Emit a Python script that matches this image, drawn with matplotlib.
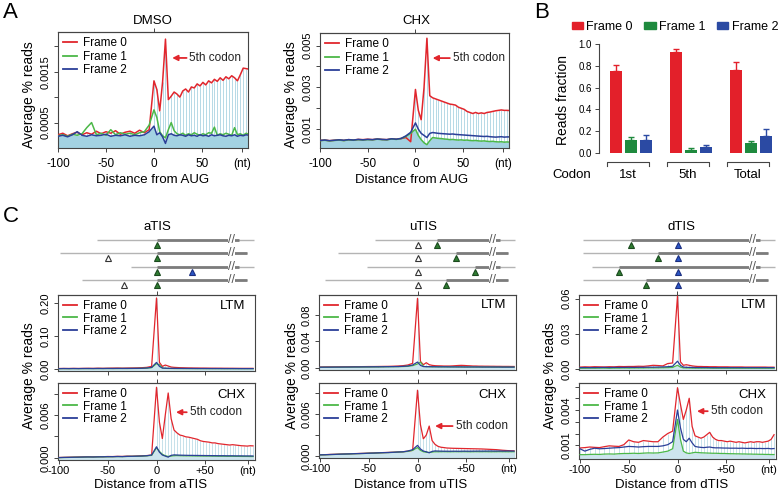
import numpy as np
import matplotlib
matplotlib.use("Agg")
import matplotlib.pyplot as plt
from matplotlib.lines import Line2D
from matplotlib.patches import Patch

plt.rcParams["font.family"] = ["Liberation Sans", "DejaVu Sans"]

# ---------------- data ----------------
# positions (nt): every 5 nt upstream, every codon downstream
POS = np.r_[np.arange(-100, 0, 5), np.arange(0, 100, 3)]

# panel A, DMSO (x 1e-4)
DMSO_F0 = [2.6, 2.9, 2.4, 2.8, 3.1, 2.6, 3.0, 2.7, 3.3, 2.8, 3.2, 2.9, 3.4, 2.7, 3.1, 3.3, 2.9, 3.5, 3.0, 3.6,
           13.2, 11.5, 7.3, 13.0, 21.4, 9.5, 10.2, 11.0, 10.6, 10.0, 11.2, 11.6, 11.0, 12.0, 11.8, 12.6, 12.2,
           12.9, 12.4, 13.2, 12.8, 13.5, 13.1, 13.8, 13.3, 14.0, 13.6, 14.2, 13.8, 13.2, 14.4, 15.7, 15.6, 15.5]
DMSO_F1 = [2.4, 2.6, 2.3, 2.7, 2.5, 2.8, 4.0, 5.0, 2.6, 2.9, 2.5, 3.6, 2.6, 3.0, 2.7, 2.9, 2.6, 3.0, 3.2, 4.5,
           7.5, 6.0, 3.2, 2.4, 2.0, 3.6, 5.0, 3.4, 2.8, 2.6, 2.9, 2.5, 2.8, 2.6, 3.0, 2.7, 2.5, 2.8, 2.6, 3.0,
           2.9, 4.1, 2.5, 2.8, 2.6, 2.9, 2.7, 2.5, 4.0, 2.6, 2.8, 2.5, 2.9, 2.7]
DMSO_F2 = [2.3, 2.5, 2.2, 2.6, 3.2, 2.5, 2.3, 2.6, 2.4, 2.5, 2.7, 2.3, 2.5, 2.4, 2.6, 2.3, 2.5, 2.4, 2.6, 3.2,
           4.3, 2.6, 3.0, 2.2, 0.9, 2.6, 2.8, 2.5, 2.4, 2.6, 2.5, 2.3, 2.6, 2.4, 2.5, 2.3, 2.6, 2.4, 2.5, 2.3,
           2.6, 2.4, 2.5, 2.6, 2.4, 2.3, 2.5, 2.4, 2.6, 2.3, 2.5, 2.4, 2.6, 2.5]

# panel A, CHX (x 1e-4)
CHXA_F0 = [4.6, 4.8, 4.5, 4.7, 4.9, 4.6, 5.0, 4.8, 5.1, 5.0, 5.2, 5.0, 5.3, 5.1, 5.0, 5.4, 5.2, 5.5, 6.0, 4.0,
           29.0, 19.0, 14.5, 30.0, 53.5, 26.0, 25.0, 24.5, 24.0, 23.5, 23.0, 22.5, 22.0, 21.8, 21.5, 20.5, 20.0,
           19.5, 18.5, 18.0, 17.5, 18.0, 17.5, 17.8, 17.5, 18.0, 18.2, 18.5, 18.8, 19.0, 19.2, 19.0, 19.0, 18.9]
CHXA_F1 = [4.5, 4.7, 4.4, 4.6, 4.8, 4.5, 4.9, 4.7, 5.0, 4.8, 5.0, 4.9, 5.2, 5.0, 4.9, 5.3, 5.1, 5.5, 6.5, 8.0,
           10.0, 7.0, 5.0, 3.5, 2.6, 4.5, 6.0, 5.8, 5.6, 5.5, 5.3, 5.2, 5.0, 5.1, 4.9, 4.8, 4.9, 4.7, 4.8, 4.6,
           4.5, 4.6, 4.4, 4.3, 4.4, 4.2, 4.1, 4.2, 4.0, 3.9, 4.0, 3.8, 3.9, 3.8]
CHXA_F2 = [4.6, 4.8, 4.5, 4.7, 4.9, 4.7, 5.0, 4.8, 5.1, 4.9, 5.1, 5.0, 5.3, 5.1, 5.0, 5.4, 5.2, 5.6, 6.8, 8.5,
           13.0, 10.0, 8.0, 7.0, 6.0, 8.0, 8.4, 8.2, 8.0, 7.9, 7.8, 7.7, 7.6, 7.7, 7.5, 7.4, 7.3, 7.2, 7.1, 7.0,
           6.9, 6.8, 6.7, 6.6, 6.5, 6.6, 6.4, 6.3, 6.2, 6.3, 6.4, 6.2, 6.3, 6.3]

# panel B
CODONS = ["1st", "5th", "Total"]
FRAME0_FRAC = [0.755, 0.927, 0.758]
FRAME0_ERR = [0.055, 0.027, 0.080]
FRAME1_FRAC = [0.116, 0.030, 0.092]
FRAME1_ERR = [0.035, 0.013, 0.015]
FRAME2_FRAC = [0.122, 0.052, 0.153]
FRAME2_ERR = [0.040, 0.024, 0.067]

# panel C, aTIS (LTM x 1e-2, CHX x 1e-4)
ATIS_LTM_F0 = [0.15, 0.18, 0.16, 0.20, 0.17, 0.20, 0.22, 0.20, 0.25, 0.22, 0.25, 0.28, 0.30, 0.27, 0.30, 0.32,
               0.35, 0.40, 0.50, 0.80,
               21.5, 2.0, 0.8, 1.2, 0.9, 0.6, 0.5, 0.45, 0.4, 0.38, 0.35, 0.33, 0.32, 0.3, 0.3, 0.28, 0.28,
               0.27, 0.26, 0.25, 0.25, 0.24, 0.24, 0.23, 0.23, 0.22, 0.22, 0.21, 0.21, 0.2, 0.2, 0.2, 0.2, 0.2]
ATIS_LTM_F1 = [0.10, 0.12, 0.10, 0.12, 0.11, 0.12, 0.13, 0.12, 0.14, 0.13, 0.15, 0.14, 0.15, 0.16, 0.15, 0.17,
               0.18, 0.20, 0.25, 0.40,
               1.6, 1.3, 0.3, 0.2, 0.18, 0.16, 0.15, 0.15, 0.14, 0.14, 0.13, 0.13, 0.13, 0.12, 0.12, 0.12, 0.12,
               0.11, 0.11, 0.11, 0.11, 0.11, 0.1, 0.1, 0.1, 0.1, 0.1, 0.1, 0.1, 0.1, 0.1, 0.1, 0.1, 0.1]
ATIS_LTM_F2 = [0.12, 0.14, 0.13, 0.14, 0.13, 0.15, 0.15, 0.14, 0.16, 0.15, 0.17, 0.16, 0.18, 0.17, 0.18, 0.19,
               0.20, 0.23, 0.30, 0.50,
               2.0, 0.8, 0.3, 0.25, 0.22, 0.2, 0.19, 0.18, 0.18, 0.17, 0.17, 0.16, 0.16, 0.16, 0.15, 0.15, 0.15,
               0.15, 0.14, 0.14, 0.14, 0.14, 0.14, 0.13, 0.13, 0.13, 0.13, 0.13, 0.12, 0.12, 0.12, 0.12, 0.12, 0.12]
ATIS_CHX_F0 = [0.5, 0.7, 0.9, 1.0, 1.2, 1.3, 1.5, 1.4, 1.7, 1.6, 1.9, 1.8, 2.1, 2.0, 2.4, 2.3, 2.6, 2.9, 3.2, 3.8,
               99, 50, 27, 60, 91, 55, 39, 35, 32, 31, 29.5, 29, 28, 27, 26, 24, 23, 22.5, 22, 21,
               21, 20, 19.5, 19, 18.5, 18, 18.5, 18, 17.5, 17, 16.8, 16.5, 17.0, 16.8]
ATIS_CHX_F1 = [0.3, 0.5, 0.6, 0.8, 0.9, 1.0, 1.2, 1.1, 1.3, 1.4, 1.5, 1.6, 1.8, 1.7, 2.0, 2.1, 2.2, 2.4, 2.8, 3.5,
               14, 9, 5, 3, 2, 2.5, 3, 3.2, 3.0, 2.9, 2.8, 2.8, 2.7, 2.7, 2.6, 2.6, 2.5, 2.5, 2.5, 2.4,
               2.4, 2.3, 2.3, 2.3, 2.2, 2.2, 2.2, 2.1, 2.1, 2.0, 2.0, 2.0, 1.9, 1.9]
ATIS_CHX_F2 = [0.4, 0.6, 0.7, 0.9, 1.0, 1.2, 1.3, 1.2, 1.4, 1.5, 1.7, 1.7, 1.9, 1.8, 2.1, 2.2, 2.4, 2.6, 3.0, 4.0,
               15.6, 8, 4, 2.5, 1.0, 3.5, 4.2, 4.0, 3.8, 3.7, 3.6, 3.5, 3.5, 3.4, 3.4, 3.3, 3.3, 3.2, 3.2, 3.1,
               3.1, 3.0, 3.0, 3.0, 2.9, 2.9, 2.9, 2.8, 2.8, 2.8, 2.7, 2.7, 2.7, 2.6]

# panel C, uTIS
UTIS_LTM_F0 = [0.15, 0.16, 0.17, 0.17, 0.18, 0.18, 0.19, 0.20, 0.20, 0.21, 0.22, 0.22, 0.23, 0.24, 0.25, 0.27,
               0.30, 0.35, 0.45, 0.70,
               10.5, 1.0, 0.5, 0.8, 0.5, 0.4, 0.35, 0.33, 0.32, 0.3, 0.3, 0.3, 0.32, 0.35, 0.38, 0.4, 0.38,
               0.35, 0.33, 0.3, 0.3, 0.28, 0.28, 0.27, 0.27, 0.26, 0.26, 0.25, 0.25, 0.24, 0.24, 0.24, 0.23, 0.23]
UTIS_LTM_F1 = [0.10, 0.11, 0.11, 0.12, 0.12, 0.13, 0.13, 0.14, 0.14, 0.15, 0.15, 0.16, 0.16, 0.17, 0.18, 0.19,
               0.20, 0.22, 0.25, 0.35,
               0.6, 0.9, 0.25, 0.2, 0.19, 0.18, 0.18, 0.17, 0.17, 0.17, 0.16, 0.16, 0.16, 0.16, 0.15, 0.15, 0.15,
               0.15, 0.15, 0.15, 0.14, 0.14, 0.14, 0.14, 0.14, 0.14, 0.13, 0.13, 0.13, 0.13, 0.13, 0.13, 0.13, 0.13]
UTIS_LTM_F2 = [0.12, 0.13, 0.13, 0.14, 0.14, 0.15, 0.15, 0.16, 0.16, 0.17, 0.17, 0.18, 0.18, 0.19, 0.20, 0.21,
               0.22, 0.25, 0.30, 0.45,
               0.9, 0.4, 0.22, 0.2, 0.2, 0.19, 0.19, 0.18, 0.18, 0.18, 0.18, 0.17, 0.17, 0.17, 0.17, 0.17, 0.16,
               0.16, 0.16, 0.16, 0.16, 0.16, 0.15, 0.15, 0.15, 0.15, 0.15, 0.15, 0.15, 0.14, 0.14, 0.14, 0.14, 0.14]
UTIS_CHX_F0 = [1.6, 1.8, 2.1, 2.3, 2.6, 2.8, 3.0, 3.3, 3.5, 3.7, 4.0, 4.2, 4.5, 4.8, 5.0, 5.3, 5.7, 6.0, 6.8, 8.0,
               94.6, 45, 24.6, 30, 43, 22, 16.6, 13.8, 12.5, 12, 11.4, 11.2, 11.0, 10.9, 10.8, 10.7, 10.6, 10.5,
               10.4, 10.3, 10.2, 10.1, 10.0, 9.8, 9.6, 9.4, 9.2, 9.0, 8.6, 8.2, 7.9, 7.6, 7.4, 7.2]
UTIS_CHX_F1 = [1.4, 1.6, 1.9, 2.1, 2.4, 2.6, 2.8, 3.1, 3.3, 3.5, 3.8, 4.0, 4.3, 4.6, 4.8, 5.1, 5.5, 5.8, 6.5, 8.0,
               12, 8, 6, 5.2, 5.0, 5.5, 6.0, 5.9, 6.0, 6.1, 6.0, 5.9, 6.0, 6.1, 6.0, 6.0, 6.1, 6.0, 5.9, 6.0,
               6.1, 6.0, 6.0, 6.1, 6.0, 5.9, 6.0, 6.0, 6.1, 6.0, 6.0, 5.9, 6.0, 6.0]
UTIS_CHX_F2 = [1.5, 1.7, 2.0, 2.2, 2.5, 2.7, 2.9, 3.2, 3.4, 3.6, 3.9, 4.1, 4.4, 4.7, 4.9, 5.2, 5.6, 5.9, 7.0, 9.0,
               15.2, 10, 7, 6, 4.5, 6.5, 7.2, 7.0, 6.9, 6.8, 6.8, 6.7, 6.8, 6.8, 6.7, 6.8, 6.9, 6.8, 6.8, 6.9,
               6.9, 7.0, 6.9, 7.0, 7.0, 7.1, 7.0, 7.0, 7.1, 7.0, 7.0, 7.1, 7.0, 7.0]

# panel C, dTIS
DTIS_LTM_F0 = [0.15, 0.17, 0.16, 0.18, 0.17, 0.16, 0.18, 0.17, 0.20, 0.19, 0.20, 0.20, 0.22, 0.21, 0.25, 0.30,
               0.28, 0.25, 0.45, 0.50,
               6.2, 0.6, 0.3, 0.35, 0.3, 0.25, 0.22, 0.2, 0.2, 0.19, 0.19, 0.18, 0.18, 0.18, 0.17, 0.17, 0.17,
               0.17, 0.16, 0.16, 0.16, 0.16, 0.16, 0.15, 0.15, 0.15, 0.15, 0.15, 0.15, 0.15, 0.15, 0.14, 0.14, 0.14]
DTIS_LTM_F1 = [0.05, 0.05, 0.06, 0.05, 0.06, 0.06, 0.05, 0.06, 0.06, 0.07, 0.06, 0.07, 0.07, 0.07, 0.08, 0.08,
               0.08, 0.09, 0.10, 0.12,
               0.30, 0.15, 0.08, 0.07, 0.07, 0.06, 0.06, 0.06, 0.06, 0.06, 0.06, 0.06, 0.05, 0.05, 0.05, 0.05, 0.05,
               0.05, 0.05, 0.05, 0.05, 0.05, 0.05, 0.05, 0.05, 0.05, 0.05, 0.05, 0.05, 0.05, 0.05, 0.05, 0.05, 0.05]
DTIS_LTM_F2 = [0.10, 0.11, 0.10, 0.11, 0.11, 0.12, 0.11, 0.12, 0.12, 0.12, 0.13, 0.12, 0.13, 0.13, 0.14, 0.14,
               0.15, 0.16, 0.18, 0.22,
               0.65, 0.3, 0.15, 0.13, 0.12, 0.12, 0.11, 0.11, 0.11, 0.11, 0.11, 0.1, 0.1, 0.1, 0.1, 0.1, 0.1,
               0.1, 0.1, 0.1, 0.1, 0.1, 0.1, 0.1, 0.1, 0.1, 0.1, 0.1, 0.1, 0.1, 0.1, 0.1, 0.1, 0.1]
DTIS_CHX_F0 = [7.7, 8.0, 8.5, 8.2, 8.0, 8.8, 9.5, 9.2, 9.0, 10.5, 14.5, 13.0, 12.5, 14.0, 13.5, 13.0, 13.0, 17.0,
               20.0, 22.0,
               59, 45, 32, 40, 50, 26, 18, 17, 16, 17, 19, 21, 17, 15, 14, 14, 13.5, 13, 13.5, 13,
               12.5, 13, 12.5, 12, 12.5, 13, 12.5, 13, 13, 12.5, 13, 13.5, 15, 19]
DTIS_CHX_F1 = [2.0, 2.0, 2.2, 2.3, 2.2, 2.5, 2.6, 2.5, 2.8, 3.0, 3.0, 3.2, 3.0, 3.3, 3.5, 3.4, 3.5, 4.2, 5.0, 7.0,
               32, 15, 5, 3.5, 3.0, 3.5, 4.0, 3.8, 3.6, 3.5, 3.4, 3.3, 3.2, 3.2, 3.1, 3.0, 3.0, 2.9, 2.8, 2.8,
               2.7, 2.7, 2.6, 2.6, 2.5, 2.5, 2.4, 2.4, 2.3, 2.3, 2.2, 2.2, 2.1, 2.1]
DTIS_CHX_F2 = [7.0, 5.0, 6.5, 7.5, 7.0, 7.2, 7.5, 7.8, 8.0, 8.5, 9.0, 8.8, 8.5, 8.8, 9.0, 9.0, 9.0, 9.5, 10.5, 13.0,
               40, 25, 15, 13, 16, 12, 9, 8.5, 8.2, 8.0, 8.3, 8.5, 8.0, 7.8, 7.8, 7.7, 7.6, 7.6, 7.5, 7.5,
               7.5, 7.4, 7.5, 7.4, 7.3, 7.4, 7.3, 7.2, 7.3, 7.2, 7.2, 7.3, 7.0, 7.2]

# transcript schematics (nt): leader start, CDS start, line ends, start-codon marks
ATIS_START = [-61, -99, -26, -76]
ATIS_CDS = [0, 0, 0, 0]
ATIS_OPEN = [[], [-50], [], [-33]]
ATIS_GREEN = [[0], [0], [0], [0]]
ATIS_BLUE = [[], [], [36], []]
UTIS_START = [-44, -82, -52, -95]
UTIS_CDS = [19.5, 39, 58.5, 29]
UTIS_OPEN = [[0], [0], [0], [0]]
UTIS_GREEN = [[19.5], [39], [58.5], [29]]
UTIS_BLUE = [[], [], [], []]
DTIS_START = [-97, -97, -88, -97]
DTIS_CDS = [-48, -20.5, -59.5, -32]
DTIS_OPEN = [[], [], [], []]
DTIS_GREEN = [[-48], [-20.5], [-59.5], [-32]]
DTIS_BLUE = [[0], [0], [0], [0]]
THIN_END = [100, 93, 100, 93]
THICK_END = [85, 93, 85, 93]

# ---------------- style ----------------
RED, GREEN, BLUE = "#e1262d", "#4cb848", "#2b3f98"
BRED, BGREEN, BBLUE = "#e3202a", "#1f8a3e", "#2b4aa3"
AXC = "#444444"

W, H = 784, 493
fig = plt.figure(figsize=(W / 100, H / 100), dpi=100)


def box(l, t, r, b):
    return fig.add_axes([l / W, 1 - b / H, (r - l) / W, (b - t) / H])


def ftext(x, y, s, **kw):
    kw.setdefault("ha", "center")
    kw.setdefault("va", "center")
    fig.text(x / W, 1 - y / H, s, **kw)


def style(ax, xpad, xsize):
    for s in ax.spines.values():
        s.set_color(AXC)
        s.set_linewidth(0.8)
    ax.tick_params(direction="out", length=3, width=0.7, color=AXC, labelsize=xsize, pad=xpad)
    ax.tick_params(axis="y", labelsize=8, pad=2)


def top_tick(ax):
    sec = ax.secondary_xaxis("top")
    sec.set_xticks([0])
    sec.set_xticklabels([])
    sec.tick_params(direction="out", length=3, width=0.7, color=AXC)
    sec.spines["top"].set_color(AXC)
    sec.spines["top"].set_linewidth(0.8)


def profile(ax, f0, f1, f2, unit, xlim, ylim, fill, stripe, lw, xpad=2, xsize=8.5):
    y0 = np.asarray(f0) * unit
    y1 = np.asarray(f1) * unit
    y2 = np.asarray(f2) * unit
    ax.vlines(POS, ylim[0], y0, colors=stripe, lw=0.7, zorder=1)
    ax.fill_between(POS, ylim[0], np.minimum(y1, y2), color=fill, lw=0, zorder=2)
    ax.plot(POS, y0, color=RED, lw=lw, zorder=3)
    ax.plot(POS, y1, color=GREEN, lw=lw, zorder=4)
    ax.plot(POS, y2, color=BLUE, lw=lw, zorder=5)
    ax.set_xlim(xlim)
    ax.set_ylim(ylim)
    style(ax, xpad, xsize)
    top_tick(ax)


def frame_legend(ax, fs, spacing):
    h = [Line2D([], [], color=c, lw=1.3) for c in (RED, GREEN, BLUE)]
    ax.legend(h, ["Frame 0", "Frame 1", "Frame 2"], loc="upper left", bbox_to_anchor=(0.0, 1.0),
              frameon=False, fontsize=fs, handlelength=1.2, handletextpad=0.5,
              labelspacing=spacing, borderaxespad=0.25, borderpad=0.2)


def codon_arrow(ax, tip, tail, y, fs):
    ax.annotate("", xy=(tip, y), xytext=(tail, y),
                arrowprops=dict(arrowstyle="-|>", color=RED, lw=1.3, mutation_scale=8,
                                shrinkA=0, shrinkB=0))
    ax.text(tail + 3, y, "5th codon", va="center", ha="left", fontsize=fs, color="#222")


# ---------------- panel A ----------------
ftext(10, 13, "A", fontsize=16)
XA = (-100, 98)
xt_a = [-100, -50, 0, 50, 92]
xl_a = ["-100", "-50", "0", "50", "(nt)"]

ax = box(58, 32, 248, 148)
profile(ax, DMSO_F0, DMSO_F1, DMSO_F2, 1e-4, XA, (0, 0.00228), "#a3d2e2", "#b6d9e6", 1.1, xpad=4)
ax.set_xticks(xt_a, xl_a)
ax.set_yticks([0.0005, 0.001, 0.0015, 0.002], ["0.0005", "", "0.0015", ""], rotation=90, va="center")
frame_legend(ax, 8.5, 0.12)
codon_arrow(ax, 19, 34, 0.00177, 8.5)
ftext(153, 21, "DMSO", fontsize=9.5)
ftext(29, 95, "Average % reads", rotation=90, fontsize=10)
ftext(153, 180, "Distance from AUG", fontsize=9.5)

ax = box(320, 33, 509, 148)
profile(ax, CHXA_F0, CHXA_F1, CHXA_F2, 1e-4, XA, (0.0001, 0.0056), "#a3d2e2", "#b6d9e6", 1.1, xpad=4)
ax.set_xticks(xt_a, xl_a)
ax.set_yticks([0.001, 0.002, 0.003, 0.004, 0.005], ["0.001", "", "0.003", "", "0.005"],
              rotation=90, va="center")
frame_legend(ax, 8.5, 0.12)
codon_arrow(ax, 18, 36, 0.0044, 8.5)
ftext(416, 21, "CHX", fontsize=9.5)
ftext(291, 95, "Average % reads", rotation=90, fontsize=10)
ftext(412, 180, "Distance from AUG", fontsize=9.5)

# ---------------- panel B ----------------
ftext(542, 12, "B", fontsize=16)
axb = box(599, 42, 776, 156)
gx = np.arange(len(CODONS))
for k, (vals, errs, col) in enumerate([(FRAME0_FRAC, FRAME0_ERR, BRED),
                                       (FRAME1_FRAC, FRAME1_ERR, BGREEN),
                                       (FRAME2_FRAC, FRAME2_ERR, BBLUE)]):
    axb.bar(gx + (k - 1) * 0.25, vals, width=0.2, color=col,
            yerr=[np.zeros(len(vals)), errs], ecolor=col, capsize=2.5,
            error_kw=dict(lw=1.0, capthick=1.0))
axb.set_xlim(-0.533, 2.417)
axb.set_ylim(-0.0275, 1.018)
for s in ("top", "right", "bottom"):
    axb.spines[s].set_visible(False)
axb.spines["left"].set_bounds(0, 1)
axb.spines["left"].set_color(AXC)
axb.spines["left"].set_linewidth(0.8)
axb.set_xticks([])
axb.set_yticks([0, 0.2, 0.4, 0.6, 0.8, 1.0], ["0.0", "0.2", "0.4", "0.6", "0.8", "1.0"])
axb.tick_params(axis="y", direction="out", length=3, width=0.7, color=AXC, labelsize=7, pad=2)
for g in gx:
    axb.plot([g - 0.4, g - 0.4, g + 0.3, g + 0.3], [-0.12, -0.08, -0.08, -0.12],
             color=AXC, lw=0.8, clip_on=False)
    axb.text(g - 0.05, -0.2, CODONS[g], ha="center", va="center", fontsize=9.5, clip_on=False)
axb.text(-0.98, -0.2, "Codon", ha="center", va="center", fontsize=9.5, clip_on=False)
ftext(563, 100, "Reads fraction", rotation=90, fontsize=10)
fig.legend([Patch(color=c) for c in (BRED, BGREEN, BBLUE)], ["Frame 0", "Frame 1", "Frame 2"],
           loc="center", bbox_to_anchor=(675 / W, 1 - 27 / H), ncol=3, frameon=False, fontsize=9,
           handlelength=0.9, handleheight=0.55, handletextpad=0.3, columnspacing=0.9,
           borderpad=0.1, borderaxespad=0)

# ---------------- panel C ----------------
ftext(11, 216, "C", fontsize=16)
XC = (-101, 101)
ROW_Y = [7, 20, 34, 47]
TRI_DY = 5
BREAK_X = 77

panels = [
    dict(name="aTIS", l=58, r=255, title_x=157, ylab_x=29, xlab_x=151,
         ltm=(ATIS_LTM_F0, ATIS_LTM_F1, ATIS_LTM_F2), chx=(ATIS_CHX_F0, ATIS_CHX_F1, ATIS_CHX_F2),
         ltm_ylim=(-0.006, 0.224), ltm_ticks=[0, 0.1, 0.2], ltm_lab=["0.00", "0.10", "0.20"],
         chx_ylim=(-0.0003, 0.0105), chx_ticks=[0, 0.003, 0.006, 0.009], chx_lab=["0.000", "", "0.006", ""],
         arrow=(20, 31, 0.0064),
         schem=(ATIS_START, ATIS_CDS, ATIS_OPEN, ATIS_GREEN, ATIS_BLUE), cb=(295, 371, 383, 460)),
    dict(name="uTIS", l=319, r=516, title_x=423, ylab_x=292, xlab_x=411,
         ltm=(UTIS_LTM_F0, UTIS_LTM_F1, UTIS_LTM_F2), chx=(UTIS_CHX_F0, UTIS_CHX_F1, UTIS_CHX_F2),
         ltm_ylim=(-0.003, 0.11), ltm_ticks=[0, 0.04, 0.08], ltm_lab=["0.00", "0.04", "0.08"],
         chx_ylim=(-0.0003, 0.0105), chx_ticks=[0, 0.003, 0.006, 0.009], chx_lab=["0.000", "", "0.006", ""],
         arrow=(18, 36, 0.0043),
         schem=(UTIS_START, UTIS_CDS, UTIS_OPEN, UTIS_GREEN, UTIS_BLUE), cb=(295, 370, 383, 458)),
    dict(name="dTIS", l=579, r=776, title_x=681, ylab_x=550, xlab_x=672,
         ltm=(DTIS_LTM_F0, DTIS_LTM_F1, DTIS_LTM_F2), chx=(DTIS_CHX_F0, DTIS_CHX_F1, DTIS_CHX_F2),
         ltm_ylim=(-0.001, 0.063), ltm_ticks=[0, 0.03, 0.06], ltm_lab=["0.00", "0.03", "0.06"],
         chx_ylim=(-0.00017, 0.0063), chx_ticks=[0.001, 0.002, 0.003, 0.004, 0.005, 0.006],
         chx_lab=["0.001", "", "", "0.004", "", ""],
         arrow=(20, 31, 0.0039),
         schem=(DTIS_START, DTIS_CDS, DTIS_OPEN, DTIS_GREEN, DTIS_BLUE), cb=(295, 370, 383, 459)),
]

for p in panels:
    l, r = p["l"], p["r"]
    lt, lb, ct, cbm = p["cb"]

    # schematic
    axs = box(l, 233, r, 292)
    axs.set_xlim(XC)
    axs.set_ylim(59, 0)
    axs.axis("off")
    starts, cds, opens, greens, blues = p["schem"]
    for i, yy in enumerate(ROW_Y):
        axs.plot([starts[i], THIN_END[i]], [yy, yy], color="#b4b4b4", lw=1.0, solid_capstyle="butt")
        axs.plot([cds[i], THICK_END[i]], [yy, yy], color="#7c7c7c", lw=2.0, solid_capstyle="butt")
        axs.text(BREAK_X, yy, "//", ha="center", va="center", fontsize=9, color="#555",
                 bbox=dict(fc="white", ec="none", pad=0.1))
        for xv in opens[i]:
            axs.plot(xv, yy + TRI_DY, "^", mfc="white", mec="#333", ms=4.5, mew=0.8)
        for xv in greens[i]:
            axs.plot(xv, yy + TRI_DY, "^", mfc="#2f7d32", mec="#1b4a1e", ms=4.5, mew=0.8)
        for xv in blues[i]:
            axs.plot(xv, yy + TRI_DY, "^", mfc="#2a56c6", mec="#1c2f80", ms=4.5, mew=0.8)

    # LTM
    ax = box(l, lt, r, lb)
    f0, f1, f2 = p["ltm"]
    profile(ax, f0, f1, f2, 1e-2, XC, p["ltm_ylim"], "#cde5ee", "#c6e1ea", 0.9)
    ax.set_xticks([-50, 0, 50], ["", "", ""])
    ax.set_yticks(p["ltm_ticks"], p["ltm_lab"], rotation=90, va="center")
    frame_legend(ax, 8.5, 0.02)
    ax.text(0.95, 0.86, "LTM", transform=ax.transAxes, ha="right", va="center", fontsize=9.5)

    # CHX
    ax = box(l, ct, r, cbm)
    f0, f1, f2 = p["chx"]
    profile(ax, f0, f1, f2, 1e-4, XC, p["chx_ylim"], "#cde5ee", "#c6e1ea", 0.9, xpad=1, xsize=8)
    ax.set_xticks([-100, -50, 0, 50, 94], ["-100", "-50", "0", "+50", "(nt)"])
    ax.set_yticks(p["chx_ticks"], p["chx_lab"], rotation=90, va="center")
    frame_legend(ax, 8.5, 0.02)
    ax.text(0.95, 0.84, "CHX", transform=ax.transAxes, ha="right", va="center", fontsize=9.5)
    tip, tail, ya = p["arrow"]
    codon_arrow(ax, tip, tail, ya, 8.5)

    ftext(p["title_x"], 227, p["name"], fontsize=9.5)
    ftext(p["ylab_x"], 376, "Average % reads", rotation=90, fontsize=10)
    ftext(p["xlab_x"], 485, "Distance from " + p["name"], fontsize=9.5)

fig.savefig("out.png", dpi=100)
